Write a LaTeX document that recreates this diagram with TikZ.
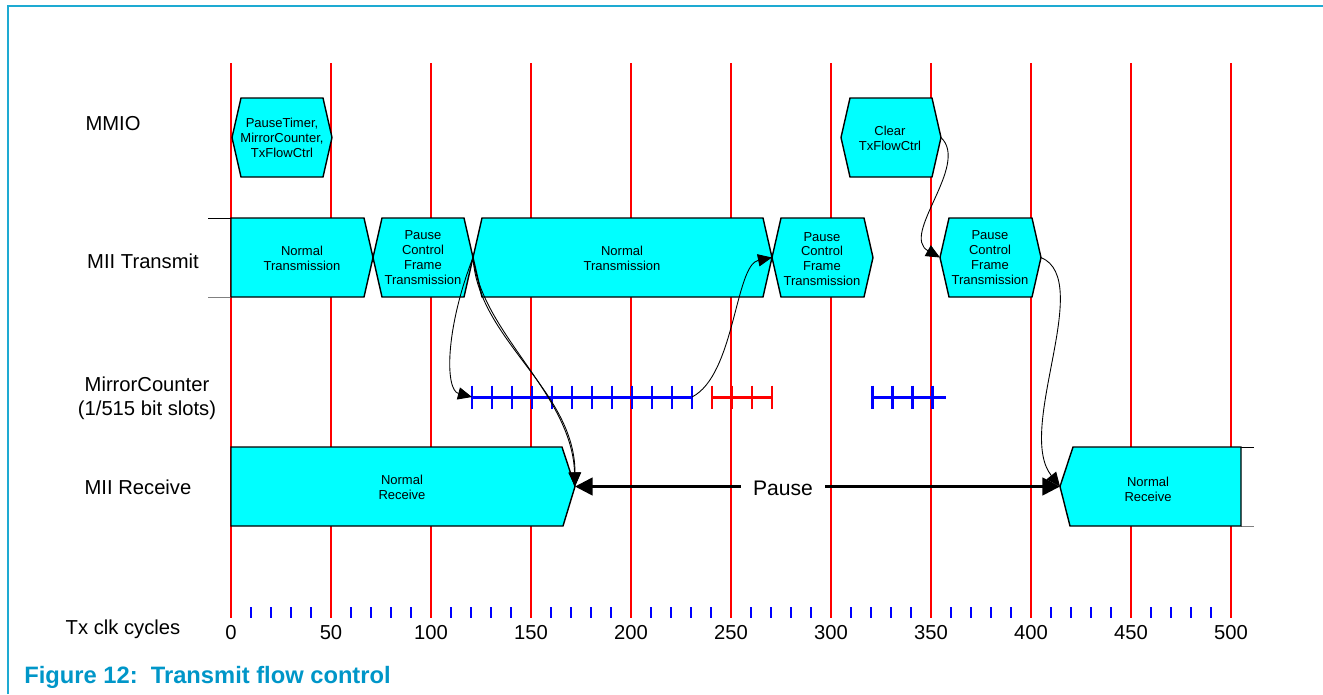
\documentclass[tikz,border=0pt]{standalone}
\usepackage{fontspec}
\setmainfont{Liberation Sans}
\usetikzlibrary{arrows.meta}
\definecolor{sigcyan}{RGB}{0,255,255}
\definecolor{frameblue}{RGB}{30,170,210}
\definecolor{capblue}{RGB}{0,150,200}

\begin{document}
\begin{tikzpicture}[x=0.02cm, y=-0.02cm,
  sig/.style={draw=black, line width=0.8pt, fill=sigcyan, line join=miter},
  sigtext/.style={font=\fontsize{7.4}{8.5}\selectfont, align=center, inner sep=0pt},
  rowlab/.style={font=\fontsize{11.5}{13.5}\selectfont, align=center, inner sep=0pt},
  grid/.style={red, line width=0.7pt},
  slot/.style={line width=1.7pt},
  link/.style={black, line width=0.5pt, -{Triangle[length=8pt, width=7pt]}},
  hold/.style={black, line width=1.5pt, -{Triangle[length=10pt, width=10pt]}}]
  \useasboundingbox (0,0) rectangle (1323,694);
  % frame
  \draw[frameblue, line width=0.6pt] (8,694) -- (8,6) -- (1323,6);

  % cycle grid and clock ticks
  \foreach \k in {0,...,10} {
    \draw[grid] (231+100*\k,63) -- (231+100*\k,618);
    \pgfmathtruncatemacro{\n}{50*\k}
    \node[rowlab] (c\k) at (231+100*\k,633) {\n};
  }
  \foreach \i in {1,...,49} {
    \pgfmathtruncatemacro{\r}{mod(\i,5)}
    \ifnum\r>0 \draw[blue, line width=0.6pt] (231+20*\i,607) -- (231+20*\i,618); \fi
  }

  % row labels
  \node[rowlab] (mmio) at (113,124) {MMIO};
  \node[rowlab] (miitx) at (143,261) {MII Transmit};
  \node[rowlab] (mirror) at (147,398) {MirrorCounter\\(1/515 bit slots)};
  \node[rowlab] (miirx) at (138,487) {MII Receive};
  \node[rowlab] (txclk) at (123,629) {Tx clk cycles};

  % MMIO writes
  \draw[sig] (232,137.5) -- (241,98) -- (323,98) -- (332,137.5) -- (323,177) -- (241,177) -- cycle;
  \node[sigtext] (regs) at (282,138) {PauseTimer,\\MirrorCounter,\\TxFlowCtrl};
  \draw[sig] (841,137.5) -- (850,98) -- (932,98) -- (941,137.5) coordinate (clr-e)
    -- (932,177) -- (850,177) -- cycle;
  \node[sigtext] (clr) at (890,138.5) {Clear\\TxFlowCtrl};

  % MII transmit
  \draw[line width=0.5pt] (208,218) -- (231,218);
  \draw[gray, line width=0.5pt] (208,297) -- (231,297);
  \draw[sig] (231,218) -- (364,218) -- (373,257.5) coordinate (nt1-e) -- (364,297) -- (231,297) -- cycle;
  \node[sigtext] (nt1) at (302,258) {Normal\\Transmission};
  \draw[sig] (373,257.5) -- (382,218) -- (464,218) -- (473,257.5) coordinate (pcf1-e)
    -- (464,297) -- (382,297) -- cycle;
  \node[sigtext] (pcf1) at (423,257.5) {Pause\\Control\\Frame\\Transmission};
  \draw[sig] (473,257.5) -- (482,218) -- (763,218) -- (772,257.5) coordinate (nt2-e)
    -- (763,297) -- (482,297) -- cycle;
  \node[sigtext] (nt2) at (622,258) {Normal\\Transmission};
  \draw[sig] (772,257.5) coordinate (pcf2-w) -- (781,218) -- (864,218) -- (873,257.5)
    -- (864,297) -- (781,297) -- cycle;
  \node[sigtext] (pcf2) at (822,259) {Pause\\Control\\Frame\\Transmission};
  \draw[sig] (940,257.5) coordinate (pcf3-w) -- (949,218) -- (1032,218) -- (1041,257.5) coordinate (pcf3-e)
    -- (1032,297) -- (949,297) -- cycle;
  \node[sigtext] (pcf3) at (990,257.5) {Pause\\Control\\Frame\\Transmission};

  % mirror counter slots
  \draw[slot, blue] (472,397) coordinate (mc-s) -- (692,397) coordinate (mc-e);
  \foreach \i in {0,...,11} \draw[slot, blue] (472+20*\i,385.5) -- ++(0,23);
  \draw[slot, red] (712,397) -- (772,397);
  \foreach \i in {0,...,3} \draw[slot, red] (712+20*\i,385.5) -- ++(0,23);
  \draw[slot, blue] (872,397) -- (946,397);
  \foreach \i in {0,...,3} \draw[slot, blue] (872+20*\i,385.5) -- ++(0,23);

  % MII receive
  \draw[sig] (231,447) -- (562,447) -- (575,486.5) coordinate (nr1-e) -- (563,526) -- (231,526) -- cycle;
  \node[sigtext] (nr1) at (402,487) {Normal\\Receive};
  \draw[line width=0.5pt] (1241,447) -- (1254,447);
  \draw[gray, line width=0.5pt] (1241,526) -- (1254,526);
  \draw[sig] (1060,486.5) coordinate (nr2-w) -- (1073,447) -- (1241,447) -- (1241,526) -- (1070,526) -- cycle;
  \node[sigtext] (nr2) at (1148,489.5) {Normal\\Receive};

  % pause interval
  \node[font=\fontsize{12}{14}\selectfont, inner xsep=6.8pt, inner ysep=0pt] (pause) at (783,488) {Pause};
  \draw[hold] (pause.west |- nr1-e) -- (nr1-e);
  \draw[hold] (pause.east |- nr2-w) -- (nr2-w);

  % causes
  \draw[link] (pcf1-e) .. controls (445,330) and (445,390) .. (mc-s);
  \draw[link] (pcf1-e) .. controls (478,340) and (575,390) .. (nr1-e);
  \draw[link] (pcf1-e) .. controls (482,334) and (572,394) .. (nr1-e);
  \draw[link] (mc-e) .. controls (735,375) and (735,265) .. (pcf2-w);
  \draw[link] (clr-e) .. controls (970,165) and (900,235) .. (pcf3-w);
  \draw[link] (pcf3-e) .. controls (1095,280) and (1015,430) .. (nr2-w);

  \node[anchor=west, font=\fontsize{13.5}{16}\selectfont\bfseries, text=capblue, inner sep=0pt]
    (cap) at (24,677) {Figure 12:\ \ Transmit flow control};
\end{tikzpicture}
\end{document}
